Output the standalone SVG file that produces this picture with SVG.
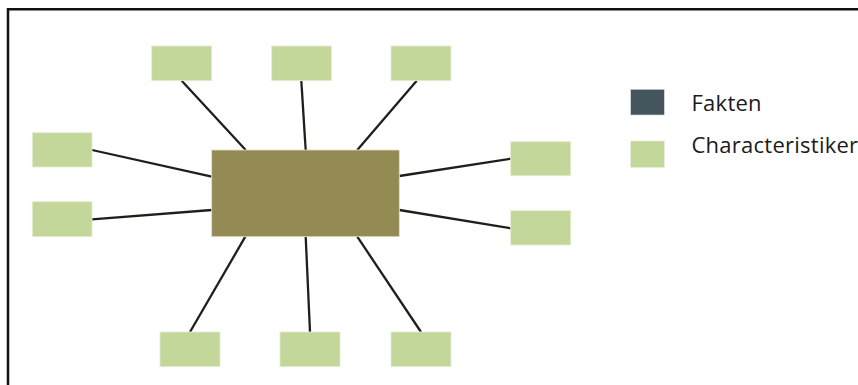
<svg xmlns="http://www.w3.org/2000/svg" width="858" height="385" viewBox="0 0 858 385">
  <style>
    .char { fill: #c4d79b; stroke: #e4eccf; stroke-width: 0.8; }
    .fact { fill: #948a54; stroke: #e2ddc6; stroke-width: 0.8; }
    .conn line { stroke: #1f1f1a; stroke-width: 2.3; }
    .frame { stroke: #111; stroke-width: 2.5; fill: none; }
    .lbl { font-family: "Open Sans", "Liberation Sans", sans-serif; font-size: 22px; letter-spacing: 0.25px; fill: #1a1a1a; }
  </style>
  <rect width="858" height="385" fill="#ffffff"/>
  <path class="frame" d="M8,385 V9.3 H858"/>

  <g id="connectors" class="conn">
    <line x1="181.7" y1="80.7" x2="245.7" y2="150"/>
    <line x1="301.3" y1="80.7" x2="305.7" y2="150"/>
    <line x1="416.7" y1="80.7" x2="357.3" y2="150"/>
    <line x1="92" y1="150" x2="211.7" y2="176.7"/>
    <line x1="92" y1="219.3" x2="211.7" y2="210"/>
    <line x1="399.3" y1="176" x2="510.7" y2="158.7"/>
    <line x1="399.3" y1="210" x2="510.7" y2="228.3"/>
    <line x1="245.3" y1="236.7" x2="190" y2="332"/>
    <line x1="305.7" y1="236.7" x2="310" y2="332"/>
    <line x1="357.3" y1="236.7" x2="421" y2="332"/>
  </g>

  <g id="fakt"><rect class="fact" x="211.7" y="150" width="187.6" height="86.7"/></g>

  <g id="c-top1"><rect class="char" x="151.7" y="46" width="60" height="34.7"/></g>
  <g id="c-top2"><rect class="char" x="271.7" y="46" width="59.6" height="34.7"/></g>
  <g id="c-top3"><rect class="char" x="391" y="46" width="60" height="34.7"/></g>
  <g id="c-left1"><rect class="char" x="32.3" y="132.7" width="59.7" height="34.3"/></g>
  <g id="c-left2"><rect class="char" x="32.3" y="201.7" width="59.7" height="35"/></g>
  <g id="c-right1"><rect class="char" x="510.7" y="141.7" width="60" height="34"/></g>
  <g id="c-right2"><rect class="char" x="510.7" y="210.7" width="60" height="34.3"/></g>
  <g id="c-bot1"><rect class="char" x="160" y="332" width="60" height="34.7"/></g>
  <g id="c-bot2"><rect class="char" x="280" y="332" width="60" height="34.7"/></g>
  <g id="c-bot3"><rect class="char" x="391" y="332" width="60" height="34.7"/></g>

  <g id="legend-fakten">
    <rect x="630.7" y="89.3" width="33.6" height="25.7" fill="#45555e" stroke="#d5dadd" stroke-width="0.6"/>
    <text class="lbl" x="691.5" y="111.3">Fakten</text>
  </g>
  <g id="legend-char">
    <rect x="630.7" y="141" width="33.6" height="26.3" fill="#c4d79b" stroke="#e4eccf" stroke-width="0.6"/>
    <text class="lbl" x="691.5" y="153.3">Characteristiker</text>
  </g>
</svg>
